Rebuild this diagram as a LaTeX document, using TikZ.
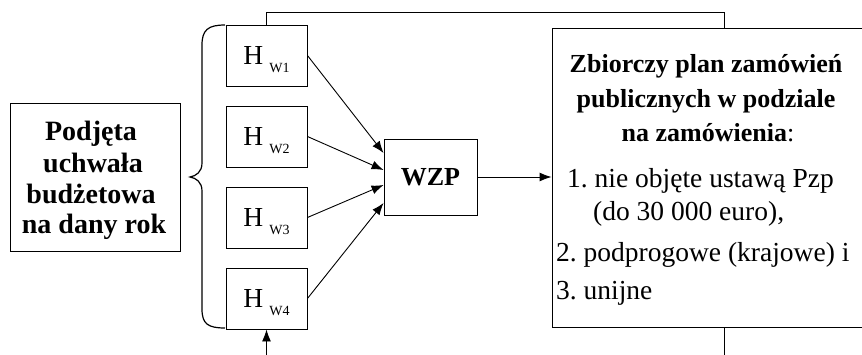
\documentclass[tikz,border=0pt]{standalone}
\usepackage{fontspec}
\setmainfont{Liberation Serif}
\usetikzlibrary{arrows.meta,calc}
\frenchspacing
\begin{document}
\begin{tikzpicture}[x=1pt,y=-1pt,
 box/.style={draw, line width=0.9pt, inner sep=0pt},
 arr/.style={line width=0.9pt, -{Latex[length=12pt,width=9pt]}},
 ln/.style={line width=0.9pt},
 big/.style={font=\fontsize{27.5}{33}\selectfont, inner sep=0pt},
 bigb/.style={font=\fontsize{28}{33}\selectfont\bfseries, inner sep=0pt},
 titb/.style={font=\fontsize{26}{33}\selectfont\bfseries, inner sep=0pt},
 hbox/.style={box, minimum width=81pt, minimum height=61pt},
]
\useasboundingbox (0,0) rectangle (862,355);

% left box
\node[box, minimum width=170pt, minimum height=148pt] (left) at (95,177) {};
\node[bigb, anchor=base] (l1) at (91,141) {Podjęta};
\node[bigb, anchor=base] (l2) at (93,173) {uchwała};
\node[bigb, anchor=base] (l3) at (91,204) {budżetowa};
\node[bigb, anchor=base] (l4) at (94,234) {na dany rok};

% brace
\draw[line width=1.2pt] (225,25) .. controls (208,25) and (202,30) .. (202,45) -- (202,163)
  .. controls (202,172) and (196,176) .. (190,177)
  .. controls (196,178) and (202,182) .. (202,191) -- (202,309)
  .. controls (202,324) and (208,328) .. (225,328);

% H boxes
\node[hbox] (H1) at (266.5,55.5) {};
\node[hbox] (H2) at (266.5,136.5) {};
\node[hbox] (H3) at (266.5,217.5) {};
\node[hbox] (H4) at (266.5,298.5) {};
\foreach \i in {1,...,4}{
  \node[big, anchor=base] (h\i t) at ($(H\i.center)+(0,9.5)$)
    {H\hspace{6pt}\raisebox{-8pt}{\fontsize{14}{14}\selectfont W\i}};
}

% WZP
\node[box, titb, minimum width=93pt, minimum height=76pt] (wzp) at (430.5,177) {WZP};

% right box
\node[box, minimum width=314pt, minimum height=299pt] (rbox) at (709,177.5) {};
\node[titb, anchor=base] (t1) at (706,73) {Zbiorczy plan zamówień};
\node[titb, anchor=base] (t2) at (706,108) {publicznych w podziale};
\node[big, anchor=base] (t3) at (708,142) {\fontsize{26}{33}\selectfont\textbf{na zamówienia}:};
\node[big, anchor=base west] (i1) at (567,188) {1. nie objęte ustawą Pzp};
\node[big, anchor=base west] (i1b) at (593,221) {(do 30 000 euro),};
\node[big, anchor=base west] (i2) at (556,262) {2. podprogowe (krajowe) i};
\node[big, anchor=base west] (i3) at (556,300) {3. unijne};

% connectors
\draw[arr] (H1.east) -- ($(wzp.west)+(0,-24)$);
\draw[arr] (H2.east) -- ($(wzp.west)+(0,-7)$);
\draw[arr] (H3.east) -- ($(wzp.west)+(0,8)$);
\draw[arr] (H4.east) -- ($(wzp.west)+(0,26)$);
\draw[arr] (wzp.east) -- (wzp.east -| rbox.west);

\coordinate (tp) at (724,12);
\draw[ln] (H1.north) |- (tp) -- (tp |- rbox.north);
\coordinate (bt) at (724,360);
\draw[ln] (bt |- rbox.south) -- (bt);
\coordinate (in) at (266.5,360);
\draw[arr] (in) -- (H4.south);
\end{tikzpicture}
\end{document}
